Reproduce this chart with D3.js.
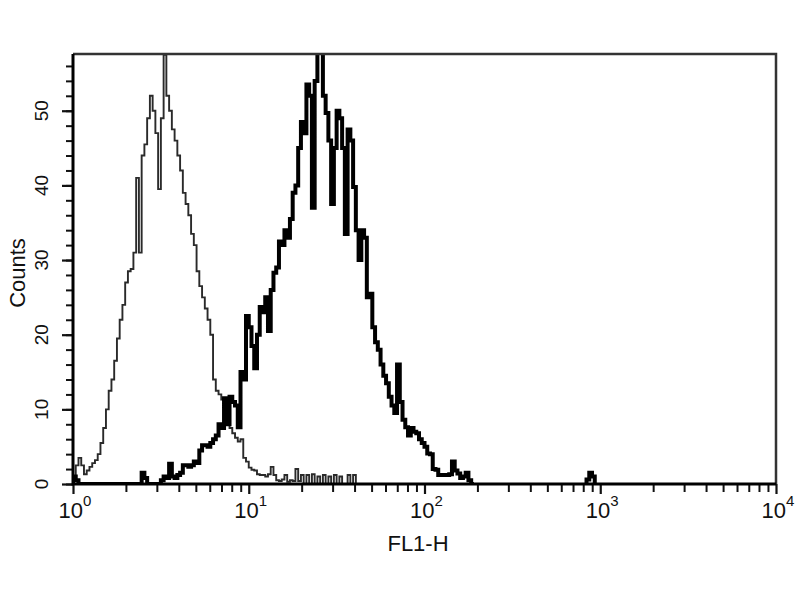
<!DOCTYPE html>
<html><head><meta charset="utf-8">
<script src="https://cdn.jsdelivr.net/npm/d3@7"></script>
<style>body{margin:0;background:#fff}text{font-family:"Liberation Sans",Arial,sans-serif;fill:#111}</style>
</head><body><svg id="c" width="800" height="600"></svg>
<script>
// ---- data ----
const xTickExponents = [0, 1, 2, 3, 4];
const yTickLabels = [0, 10, 20, 30, 40, 50];
const channelsPerDecade = 64;           // 256 channels over 4 decades
const controlStart = 0;
const controlCounts = [
  1,2.5,3.5,2.5,1.3,1.8,2.3,2.8,3.2,4,
  5.5,7.5,10,12.5,14,16.5,19.5,22,24,27,
  28.5,28.8,31,41,31,44,45.5,49,52,50,
  47,39.5,49,57.5,52,50,47.5,46,44,42,
  39,37.5,36,33.5,32,28.5,26.5,25,23.5,22,
  20,14,12.5,12,11.3,10,8.6,7.5,6.8,6.2,
  5.7,6,3.5,3,2.2,1.9,1.8,1.3,1.2,1.2,
  1,1.3,2.3,1.2,0.5,0.4,0.6,1.2,0.3,0.5,
  0.4,2,0.4,1.2,0,1.2,0,1.3,0,1,
  0,1.2,0,1,0,1.2,0,1,0,0,
  1.2,0,1.2,0,0
];
const stainedStart = 0;
const stainedCounts = [
  1,0.5,0,0,0,0,0,0,0,0,
  0,0,0,0,0,0,0,0,0,0,
  0,0,0,0,0,1.5,0.8,0,0,0,
  0,0,0.5,1,0.8,2.7,1,0.8,1.2,1.5,
  2.5,2.5,2.3,2.5,3,2.8,4.5,5.2,5.2,5,
  5.5,6,6.5,8,7.5,11.5,8,11.7,11,10.5,
  7.6,15,14,22.5,21,18.5,15.5,20,23.7,23,
  25,20.5,26,28.3,29,32.5,32,34,33,35.5,
  39,40,45,48.5,47,53.5,52,37,54,58,
  58,52,49.7,46,37.5,45,50,49,45,33.5,
  47.5,46,39.8,34,30,34,33,25,25.5,21,
  19,18,16,14.5,13.5,11.7,10.5,9.5,16,11,
  8.6,7.6,6.5,7.5,7,6.8,6,5.5,5,4.1,
  4,2,1.9,1.2,1.2,1.2,1.2,1.3,3,1.8,
  1.4,0.8,1,1.5,0.5,0
];
const stainedBlipStart = 187;
const stainedBlipCounts = [0.6, 1.5, 1];

// ---- layout ----
const svg = d3.select("#c");
const L = 73, R = 776, T = 54, B = 484;
const x = d3.scaleLog().domain([1, 1e4]).range([L, R]);
const y = d3.scaleLinear().domain([0, 57.6]).range([B, T]);
const chVal = ch => Math.pow(10, ch / channelsPerDecade);

svg.append("defs").append("clipPath").attr("id","clip")
  .append("rect").attr("x",L).attr("y",T).attr("width",R-L).attr("height",B-T);

// minor/major x ticks
const xMinor = [];
for (let e = 0; e < 4; e++) for (let m = 2; m <= 9; m++) xMinor.push(m * Math.pow(10, e));
const xMajor = xTickExponents.map(e => Math.pow(10, e));
svg.append("g").attr("transform",`translate(0,${B})`)
  .call(d3.axisBottom(x).tickValues(xMinor).tickSize(8).tickFormat(""))
  .call(g => g.select(".domain").remove())
  .call(g => g.selectAll("line").attr("stroke","#111").attr("stroke-width",2));
svg.append("g").attr("transform",`translate(0,${B})`)
  .call(d3.axisBottom(x).tickValues(xMajor).tickSize(10).tickFormat(""))
  .call(g => g.select(".domain").remove())
  .call(g => g.selectAll("line").attr("stroke","#111").attr("stroke-width",2.2));

// y ticks
const yMinor = d3.range(0, 57, 2);
svg.append("g").attr("transform",`translate(${L},0)`)
  .call(d3.axisLeft(y).tickValues(yMinor).tickSize(7).tickFormat(""))
  .call(g => g.select(".domain").remove())
  .call(g => g.selectAll("line").attr("stroke","#111").attr("stroke-width",2));
svg.append("g").attr("transform",`translate(${L},0)`)
  .call(d3.axisLeft(y).tickValues(yTickLabels).tickSize(11).tickFormat(""))
  .call(g => g.select(".domain").remove())
  .call(g => g.selectAll("line").attr("stroke","#111").attr("stroke-width",2.2));

// x tick labels 10^n
xTickExponents.forEach(e => {
  const t = svg.append("text").attr("x", x(Math.pow(10, e)) + 2).attr("y", 518)
    .attr("text-anchor","middle").attr("font-size",22);
  t.append("tspan").text("10");
  t.append("tspan").attr("dy",-12).attr("font-size",15).text(e);
});
// y tick labels (rotated)
yTickLabels.forEach(v => {
  svg.append("text").attr("transform",`translate(48,${y(v)}) rotate(-90)`)
    .attr("text-anchor","middle").attr("font-size",19).text(v);
});
// axis titles
svg.append("text").attr("x",418).attr("y",551).attr("text-anchor","middle")
  .attr("font-size",22).text("FL1-H");
svg.append("text").attr("transform",`translate(25,273) rotate(-90)`)
  .attr("text-anchor","middle").attr("font-size",22).text("Counts");

// histograms
const stepLine = d3.line().x(d => x(chVal(d[0]))).y(d => y(d[1])).curve(d3.curveStepAfter);
function pts(start, counts) {
  const p = [[start, 0]];
  counts.forEach((c, i) => p.push([start + i, c]));
  p.push([start + counts.length, 0]);
  return p;
}
const plot = svg.append("g").attr("clip-path","url(#clip)");
plot.append("path").attr("d", stepLine(pts(controlStart, controlCounts)))
  .attr("fill","none").attr("stroke","#2a2a2a").attr("stroke-width",1.9);
plot.append("path").attr("d", stepLine(pts(stainedStart, stainedCounts)))
  .attr("fill","none").attr("stroke","#000").attr("stroke-width",4);
plot.append("path").attr("d", stepLine(pts(stainedBlipStart, stainedBlipCounts)))
  .attr("fill","none").attr("stroke","#000").attr("stroke-width",4);

// frame
svg.append("path").attr("d",`M${L},${T}H${R}V${B}`).attr("fill","none")
  .attr("stroke","#333").attr("stroke-width",2.5);
svg.append("path").attr("d",`M${L},${T}V${B}H${R}`).attr("fill","none")
  .attr("stroke","#000").attr("stroke-width",3);
</script></body></html>
